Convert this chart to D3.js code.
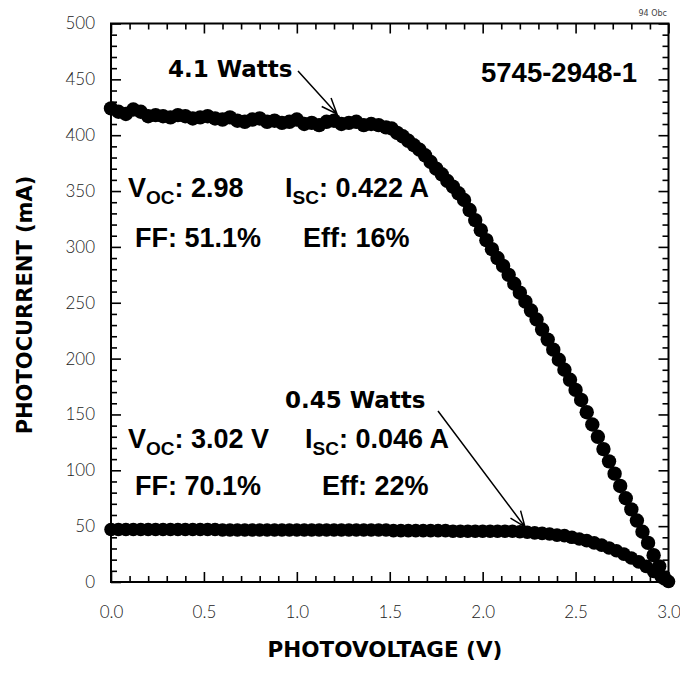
<!DOCTYPE html>
<html lang="en-US">
<head>
<meta charset="UTF-8">
<title>Photocurrent vs photovoltage</title>
<script src="https://cdn.jsdelivr.net/npm/d3@7"></script>
<style>
  body { margin: 0; background: #fff; }
  .tick text { font-family: "Lato", "DejaVu Sans", sans-serif; font-weight: 300; font-size: 17px; fill: #222; }
  .note { font-family: "Liberation Sans", Arial, sans-serif; font-weight: bold; fill: #000; }
  .heavy { font-family: "DejaVu Sans", sans-serif; font-weight: bold; fill: #000; }
</style>
</head>
<body>
<div id="chart"></div>
<script>
// high-light curve (4.1 W)
const highV = [0, 0.04, 0.08, 0.12, 0.16, 0.20, 0.24, 0.28, 0.32, 0.36, 0.40, 0.44, 0.48, 0.52, 0.56, 0.60, 0.64, 0.68, 0.72, 0.76,
  0.80, 0.84, 0.88, 0.92, 0.96, 1.00, 1.04, 1.08, 1.12, 1.16, 1.20, 1.24, 1.28, 1.32, 1.36, 1.40, 1.44, 1.48,
  1.51, 1.54, 1.57, 1.60, 1.63, 1.66, 1.69, 1.72, 1.75, 1.78, 1.81, 1.84, 1.87, 1.90, 1.93, 1.96, 1.99, 2.02, 2.05, 2.08,
  2.11, 2.14, 2.17, 2.20, 2.23, 2.26, 2.29, 2.32, 2.35, 2.38, 2.41, 2.44, 2.47, 2.50, 2.53, 2.56, 2.59, 2.62, 2.65, 2.68,
  2.71, 2.74, 2.77, 2.80, 2.83, 2.86, 2.89, 2.92, 2.95, 2.98];
const highI = [424, 421, 419, 423, 421, 417, 418, 417, 416, 418, 417, 415, 416, 417, 415, 414, 416, 413, 412, 414,
  415, 412, 413, 411, 412, 414, 410, 411, 409, 412, 413, 410, 411, 412, 409, 410, 409, 407,
  406, 402, 399, 395, 391, 387, 382, 376, 370, 365, 359, 354, 348, 342, 333, 324, 315, 306, 298, 290,
  283, 275, 267, 259, 251, 243, 235, 226, 217, 208, 199, 190, 181, 172, 163, 152, 141, 130, 119, 108,
  97, 86, 75, 65, 55, 45, 35, 24, 14, 3];

// low-light curve (0.45 W)
const lowV = [0, 0.04, 0.08, 0.12, 0.16, 0.20, 0.24, 0.28, 0.32, 0.36, 0.40, 0.44, 0.48, 0.52, 0.56,
  0.60, 0.64, 0.68, 0.72, 0.76, 0.80, 0.84, 0.88, 0.92, 0.96, 1.00, 1.04, 1.08, 1.12, 1.16, 1.20, 1.24, 1.28, 1.32, 1.36, 1.40, 1.44, 1.48,
  1.52, 1.56, 1.60, 1.64, 1.68, 1.72, 1.76, 1.80, 1.84, 1.88, 1.92, 1.96, 2.00, 2.04, 2.08, 2.12,
  2.16, 2.20, 2.24, 2.28, 2.32, 2.36, 2.40, 2.44, 2.48, 2.52, 2.56, 2.60, 2.64, 2.68, 2.72, 2.76, 2.80, 2.84, 2.88, 2.92, 2.96, 3.00];
const lowI = [47, 47, 47, 47, 47, 47, 47, 47, 47, 47, 47, 47, 47, 47, 47,
  46.5, 46.5, 46.5, 46.5, 46.5, 46.5, 46.5, 46.5, 46.5, 46.5, 46.5, 46.5, 46.5, 46.5, 46.5, 46.5, 46.5, 46.5, 46.5, 46.5, 46.5, 46.5, 46.5,
  46, 46, 46, 46, 46, 46, 46, 46, 45.5, 45.5, 45.5, 45.5, 45.5, 45.5, 45.5, 45.5,
  45.5, 45, 44.5, 44, 43.5, 43, 42, 41.5, 40, 38.5, 37, 35, 33, 30.5, 28, 25, 21.5, 18, 14, 9.5, 5, 0.5];

const xMajor = [0, 0.5, 1.0, 1.5, 2.0, 2.5, 3.0];
const yMajor = [0, 50, 100, 150, 200, 250, 300, 350, 400, 450, 500];

let width = 680;
let height = 675;
let plot = {left: 111, right: 668.5, top: 23.5, bottom: 582};

var svg = d3.select("#chart")
            .append("svg")
            .attr("width", width)
            .attr("height", height);

var x = d3.scaleLinear().domain([0, 3]).range([plot.left, plot.right]);
var y = d3.scaleLinear().domain([0, 500]).range([plot.bottom, plot.top]);

let xMinor = d3.range(0, 31).map(i => i / 10).filter(v => Math.round(v * 10) % 5 !== 0);
let yMinor = d3.range(0, 51).map(i => i * 10).filter(v => v % 50 !== 0);

// bottom axis with labels
const bottomG = svg.append("g").attr("transform", "translate(0," + plot.bottom + ")");
bottomG.call(d3.axisBottom(x).tickValues(xMajor).tickSize(-10).tickPadding(24).tickFormat(d3.format(".1f")));
bottomG.append("g").call(d3.axisBottom(x).tickValues(xMinor).tickSize(-6).tickFormat(""));

// top axis, ticks only
const topG = svg.append("g").attr("transform", "translate(0," + plot.top + ")");
topG.call(d3.axisBottom(x).tickValues(xMajor).tickSize(10).tickFormat(""));
topG.append("g").call(d3.axisBottom(x).tickValues(xMinor).tickSize(6).tickFormat(""));

// left axis with labels
const leftG = svg.append("g").attr("transform", "translate(" + plot.left + ",0)");
leftG.call(d3.axisLeft(y).tickValues(yMajor).tickSize(-10).tickPadding(16).tickFormat(d3.format("d")));
leftG.append("g").call(d3.axisLeft(y).tickValues(yMinor).tickSize(-6).tickFormat(""));

// right axis, ticks only
const rightG = svg.append("g").attr("transform", "translate(" + plot.right + ",0)");
rightG.call(d3.axisLeft(y).tickValues(yMajor).tickSize(10).tickFormat(""));
rightG.append("g").call(d3.axisLeft(y).tickValues(yMinor).tickSize(6).tickFormat(""));

svg.selectAll(".domain").remove();
svg.selectAll(".tick line").attr("stroke", "#000").attr("stroke-width", 1.6);

// frame
svg.append("rect")
   .attr("x", plot.left).attr("y", plot.top)
   .attr("width", plot.right - plot.left).attr("height", plot.bottom - plot.top)
   .attr("fill", "none").attr("stroke", "#000").attr("stroke-width", 2);

// data dots
const highData = highV.map((v, i) => ({v: v, i: highI[i]}));
const lowData = lowV.map((v, i) => ({v: v, i: lowI[i]}));

svg.append("g").selectAll("circle").data(lowData).enter().append("circle")
   .attr("cx", d => x(d.v)).attr("cy", d => y(d.i)).attr("r", 6.8).attr("fill", "#000");
svg.append("g").selectAll("circle").data(highData).enter().append("circle")
   .attr("cx", d => x(d.v)).attr("cy", d => y(d.i)).attr("r", 7.2).attr("fill", "#000");

// arrows
function arrow(x1, y1, x2, y2) {
  let a = Math.atan2(y2 - y1, x2 - x1);
  let len = 17, spread = 0.38;
  let h1 = [x2 - len * Math.cos(a - spread), y2 - len * Math.sin(a - spread)];
  let h2 = [x2 - len * Math.cos(a + spread), y2 - len * Math.sin(a + spread)];
  svg.append("path")
     .attr("d", "M" + x1 + "," + y1 + "L" + x2 + "," + y2 + "M" + h1 + "L" + x2 + "," + y2 + "L" + h2)
     .attr("fill", "none").attr("stroke", "#000").attr("stroke-width", 1.5);
}
arrow(298, 71, 337, 114);
arrow(438, 411, 525, 527);

svg.append("text").attr("class", "heavy").attr("x", 168).attr("y", 77).style("font-size", "23px").text("4.1 Watts");
svg.append("text").attr("class", "heavy").attr("x", 285).attr("y", 408).style("font-size", "23px").text("0.45 Watts");

svg.append("text").attr("class", "note").attr("x", 637).attr("y", 82).attr("text-anchor", "end")
   .style("font-size", "27.5px").text("5745-2948-1");

svg.append("text").attr("x", 667).attr("y", 16).attr("text-anchor", "end")
   .style("font-family", "DejaVu Sans, sans-serif").style("font-size", "8px").attr("fill", "#444").text("94 Obc");

// parameter blocks
function subLabel(xp, yp, main, sub, rest) {
  const t = svg.append("text").attr("class", "note").attr("x", xp).attr("y", yp).style("font-size", "27px");
  t.append("tspan").text(main);
  t.append("tspan").attr("dy", 7).style("font-size", "19px").text(sub);
  t.append("tspan").attr("dy", -7).text(rest);
}
function plainLabel(xp, yp, s) {
  svg.append("text").attr("class", "note").attr("x", xp).attr("y", yp).style("font-size", "27px").text(s);
}
subLabel(128, 197, "V", "OC", ": 2.98");
subLabel(285, 197, "I", "SC", ": 0.422 A");
plainLabel(135, 247, "FF: 51.1%");
plainLabel(303, 247, "Eff: 16%");
subLabel(128, 448, "V", "OC", ": 3.02 V");
subLabel(305, 448, "I", "SC", ": 0.046 A");
plainLabel(135, 495, "FF: 70.1%");
plainLabel(322, 495, "Eff: 22%");

// axis titles
svg.append("text").attr("class", "heavy").attr("x", 385).attr("y", 657).attr("text-anchor", "middle")
   .style("font-size", "21.5px").text("PHOTOVOLTAGE (V)");
svg.append("text").attr("class", "heavy").attr("transform", "translate(32,305) rotate(-90)")
   .attr("text-anchor", "middle").style("font-size", "21px").text("PHOTOCURRENT (mA)");
</script>
</body>
</html>
